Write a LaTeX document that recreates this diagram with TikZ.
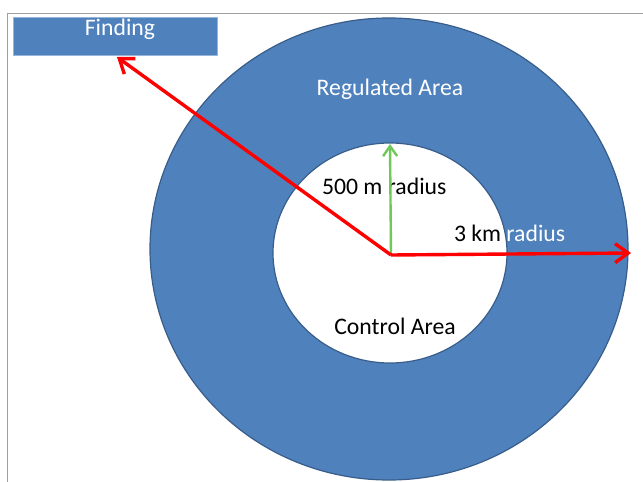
\documentclass[tikz,border=0pt]{standalone}
\usepackage{fontspec}
\setmainfont{Carlito}
\usetikzlibrary{arrows.meta,shapes.geometric}
\definecolor{areablue}{RGB}{79,129,189}
\definecolor{edgeblue}{RGB}{56,93,138}
\definecolor{lightedge}{RGB}{150,180,220}
\definecolor{framegray}{RGB}{160,160,160}
\definecolor{arrowgreen}{RGB}{112,200,90}
\tikzset{
  lbl/.style={inner sep=0pt, outer sep=0pt, font=\fontsize{23.7}{28}\selectfont},
  redarrow/.style={draw=red, line width=3.4pt, -{Straight Barb[length=13pt, width=19pt, line width=3.4pt]}},
  greenarrow/.style={draw=arrowgreen, line width=2.4pt, -{Straight Barb[length=10pt, width=14pt, line width=2.4pt]}},
}
\begin{document}
\begin{tikzpicture}[x=1pt, y=-1pt]
\useasboundingbox (0,0) rectangle (643,482);
% frame
\draw[framegray, line width=1pt] (7.5,482) -- (7.5,13.5) -- (643,13.5);
% Finding box
\node[draw=lightedge, line width=0.6pt, fill=areablue, minimum width=204pt, minimum height=38pt,
      inner sep=0pt, outer sep=0pt, anchor=north west] (findbox) at (13,17) {};
\node[lbl, anchor=base, text=white] (findtxt) at (120,35) {Finding};
% areas
\node[ellipse, draw=edgeblue, line width=1.2pt, fill=areablue, minimum width=478pt, minimum height=462pt,
      inner sep=0pt, outer sep=0pt] (outer) at (389,249) {};
\node[ellipse, draw=edgeblue, line width=1.2pt, fill=white, minimum width=234pt, minimum height=220pt,
      inner sep=0pt, outer sep=0pt] (inner) at (390,253) {};
% labels
\node[lbl, anchor=base, text=white] (reg) at (390,95) {Regulated Area};
\node[lbl, anchor=base] (ctrl) at (395,334) {Control Area};
\node[lbl, anchor=base west] (r500) at (322,194) {500 m radius};
\node[lbl, anchor=base west, text=white] (r3w) at (454,241) {3 km radius};
\begin{scope}
  \clip (390,253) ellipse [x radius=116.4pt, y radius=109.4pt];
  \node[lbl, anchor=base west, text=black] (r3b) at (454,241) {3 km radius};
\end{scope}
% arrows
\coordinate (o) at (391,255);
\coordinate (rtip) at (631,253);
\coordinate (ftip) at (117,57);
\coordinate (gtip) at (390,144);
\draw[greenarrow] (o) -- (gtip);
\draw[redarrow] (o) -- (rtip);
\draw[redarrow] (o) -- (ftip);
\end{tikzpicture}
\end{document}
